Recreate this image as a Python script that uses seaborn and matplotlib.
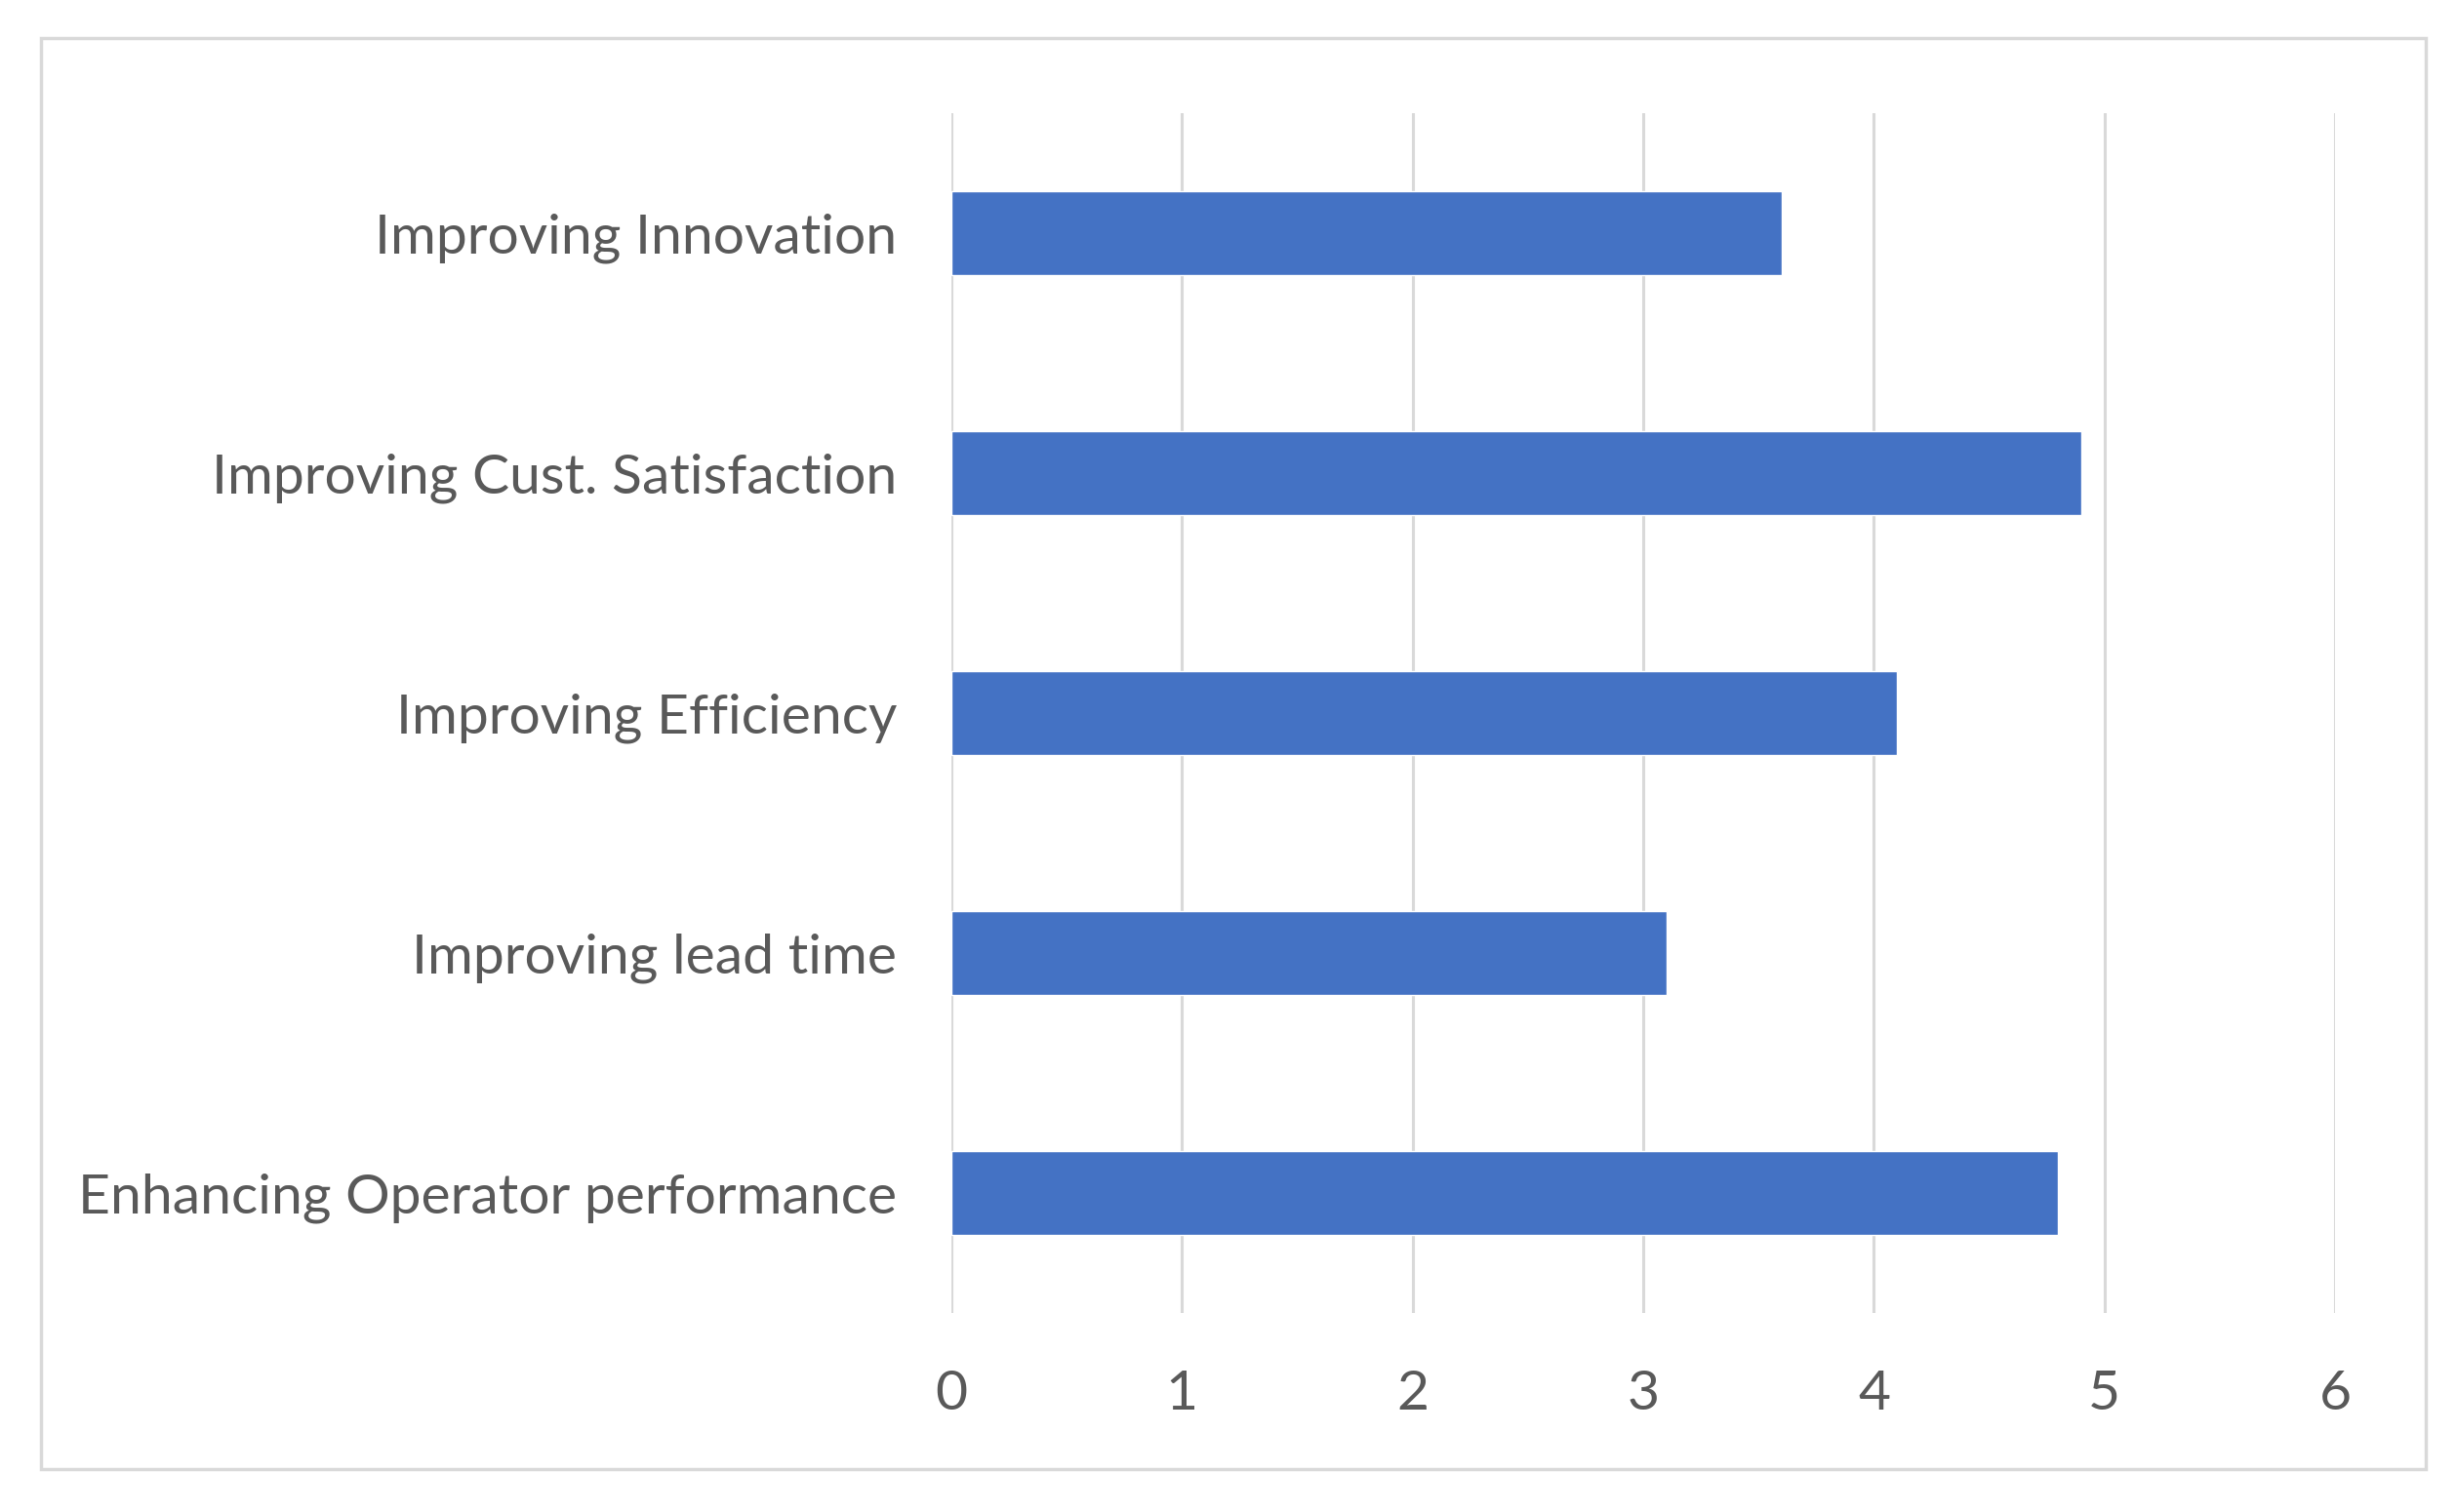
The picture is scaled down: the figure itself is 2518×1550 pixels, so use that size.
import matplotlib
matplotlib.use("Agg")
import matplotlib.pyplot as plt
import seaborn as sns
import pandas as pd
from matplotlib.patches import Rectangle

# values
categories = ["Improving Innovation", "Improving Cust. Satisfaction", "Improving Efficiency",
              "Improving lead time", "Enhancing Operator performance"]
scores = [3.6, 4.9, 4.1, 3.1, 4.8]
x_ticks = [0, 1, 2, 3, 4, 5, 6]

sns.set_theme(style="white")
plt.rcParams['font.family'] = ['Lato', 'DejaVu Sans']

df = pd.DataFrame({"category": categories, "score": scores})

fig = plt.figure(figsize=(25.18, 15.5), dpi=100)
ax = fig.add_axes([0.3872, 0.1316, 0.5632, 0.7936])

sns.barplot(data=df, x="score", y="category", orient="h", color="#4472C4",
            saturation=1, width=0.35, ax=ax)

ax.set_xlim(0, 6)
ax.set_ylim(4.5, -0.5)
ax.set_xticks(x_ticks)
ax.set_xlabel("")
ax.set_ylabel("")
ax.grid(axis="x", color="#D9D9D9", linewidth=2.2)
ax.set_axisbelow(True)
for s in ax.spines.values():
    s.set_visible(False)
ax.tick_params(axis="both", length=0, labelsize=41, labelcolor="#595959")
ax.tick_params(axis="x", pad=42)
ax.tick_params(axis="y", pad=40)

fig.patches.append(Rectangle((0.0167, 0.0284), 0.9706, 0.9465, transform=fig.transFigure,
                             fill=False, edgecolor="#D9D9D9", linewidth=2.5))

fig.savefig("out.png", dpi=100)
